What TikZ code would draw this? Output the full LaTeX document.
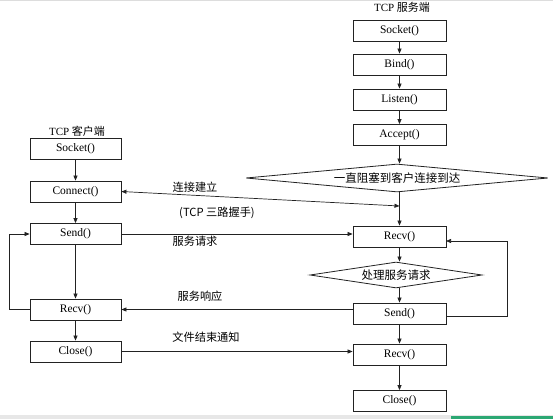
\documentclass[tikz,border=0pt]{standalone}
\usepackage{fontspec}
\setmainfont{Liberation Serif}
\newfontfamily\cjk{Noto Sans CJK SC}
\usetikzlibrary{arrows.meta,shapes.geometric}
\definecolor{ln}{HTML}{222222}
\definecolor{edge}{HTML}{DDDDDD}
\definecolor{bar}{HTML}{2BA873}
\begin{document}
\begin{tikzpicture}[x=1pt,y=-1pt,
  box/.style={draw=ln, line width=0.8pt, minimum width=91pt, minimum height=21pt, inner sep=0pt, font=\fontsize{11.5}{12}\selectfont},
  sbox/.style={box, minimum width=93pt},
  dia/.style={draw=ln, line width=0.8pt, diamond, inner sep=0pt, font=\cjk\fontsize{11.5}{12}\selectfont},
  lab/.style={font=\cjk\fontsize{11.2}{12}\selectfont, inner sep=0pt},
  ttl/.style={font=\fontsize{11}{12}\selectfont, inner sep=0pt},
  arr/.style={draw=ln, line width=0.7pt, -{Triangle[length=5pt,width=4pt]}},
  darr/.style={draw=ln, line width=0.7pt, {Triangle[length=5pt,width=4pt]}-{Triangle[length=5pt,width=4pt]}},
  ln/.style={draw=ln, line width=0.7pt}
]
\useasboundingbox (0,0) rectangle (553,419);
\fill[white] (0,0) rectangle (553,419);
\fill[edge] (0,0) rectangle (553,1.5);
\fill[edge!70] (0,415) rectangle (553,419);
\fill[bar] (451,416) rectangle (553,419);

% titles
\node[ttl] (tc) at (77,131) {TCP {\cjk 客户端}};
\node[ttl] (ts) at (402,7) {TCP {\cjk 服务端}};

% client column
\node[box] (cSocket)  at (75.5,148.5) {Socket()};
\node[box] (cConnect) at (75.5,191.5) {Connect()};
\node[box] (cSend)    at (75.5,234)   {Send()};
\node[box] (cRecv)    at (75.5,309.5) {Recv()};
\node[box] (cClose)   at (75.5,351.5) {Close()};

% server column
\node[sbox] (sSocket) at (399.5,30.5)  {Socket()};
\node[sbox] (sBind)   at (399.5,64.5)  {Bind()};
\node[sbox] (sListen) at (399.5,99.5)  {Listen()};
\node[sbox] (sAccept) at (399.5,135)   {Accept()};
\node[dia, aspect=10, minimum width=302pt, minimum height=28pt] (d1) at (397,178) {一直阻塞到客户连接到达};
\node[sbox] (sRecv)   at (399.5,236.5) {Recv()};
\node[dia, aspect=6.6, minimum width=172pt, minimum height=26pt] (d2) at (396,275) {处理服务请求};
\node[sbox] (sSend)   at (399.5,313.5) {Send()};
\node[sbox] (sRecv2)  at (399.5,354.5) {Recv()};
\node[sbox] (sClose)  at (399.5,401)   {Close()};

% client vertical arrows
\draw[arr] (cSocket) -- (cConnect);
\draw[arr] (cConnect) -- (cSend);
\draw[arr] (cSend) -- (cRecv);
\draw[arr] (cRecv) -- (cClose);

% server vertical arrows
\draw[arr] (sSocket) -- (sBind);
\draw[arr] (sBind) -- (sListen);
\draw[arr] (sListen) -- (sAccept);
\draw[arr] (sAccept.south) -- (sAccept.south |- d1.north);
\coordinate (d1b) at (399.5,191.5);
\draw[arr] (d1b) -- (sRecv.north);
\coordinate (j) at (399.5,206);
\draw[arr] (sRecv.south) -- (sRecv.south |- d2.north);
\coordinate (d2b) at (399.5,287.5);
\draw[arr] (d2b) -- (sSend.north);
\draw[arr] (sSend) -- (sRecv2);
\draw[arr] (sRecv2) -- (sClose);

% client loop
\coordinate (cl1) at (9,310);
\draw[arr] (cRecv.west) -- (cRecv.west -| cl1) -- (cl1 |- cSend.west) -- (cSend.west);

% server loop
\coordinate (sl1) at (507,316);
\coordinate (sl2) at (507,241);
\coordinate (sRecvE) at (446,241);
\coordinate (sSendE) at (446,316);
\draw[arr] (sSendE) -- (sl1) -- (sl2) -- (sRecvE);

% cross connections
\draw[darr] (cConnect.east) -- (j);
\draw[arr] (cSend.east) -- (cSend.east -| sRecv.west);
\draw[arr] (cRecv.east -| sSend.west) -- (cRecv.east);
\draw[arr] (cClose.east) -- (cClose.east -| sRecv2.west);

% labels
\node[lab] (l1) at (195,187) {连接建立};
\node[lab] (l2) at (217,213) {(TCP 三路握手)};
\node[lab] (l3) at (195,241) {服务请求};
\node[lab] (l4) at (200,296) {服务响应};
\node[lab] (l5) at (206,337) {文件结束通知};
\end{tikzpicture}
\end{document}
